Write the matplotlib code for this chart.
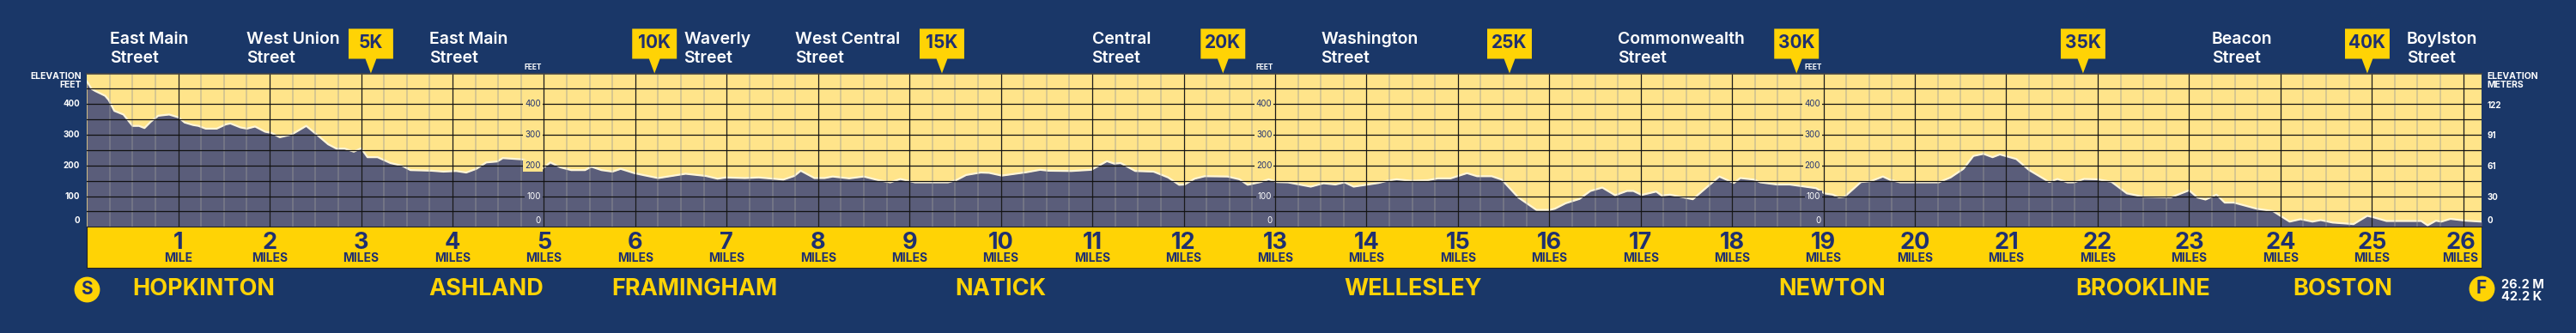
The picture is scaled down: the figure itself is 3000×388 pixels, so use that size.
import matplotlib
matplotlib.use('Agg')
import matplotlib.pyplot as plt
from matplotlib.patches import Polygon

# elevation profile
miles = [0.00, 0.05, 0.09, 0.20, 0.24, 0.30, 0.40, 0.50, 0.57, 0.63, 0.70, 0.78, 0.90, 1.00, 1.07, 1.16, 1.22, 1.30, 1.42,
         1.52, 1.57, 1.68, 1.75, 1.84, 1.95, 2.02, 2.11, 2.24, 2.40, 2.53, 2.64, 2.73, 2.82, 2.92, 3.00, 3.07, 3.18, 3.32,
         3.45, 3.54, 3.77, 3.90, 4.04, 4.15, 4.26, 4.37, 4.49, 4.55, 4.76, 4.89, 4.98, 5.07, 5.18, 5.30, 5.45, 5.52, 5.63,
         5.75, 5.84, 5.99, 6.10, 6.25, 6.55, 6.77, 6.90, 6.99, 7.20, 7.35, 7.62, 7.74, 7.81, 7.96, 8.07, 8.16, 8.34, 8.50,
         8.66, 8.79, 8.90, 9.06, 9.42, 9.51, 9.62, 9.78, 9.87, 10.01, 10.28, 10.43, 10.52, 10.77, 10.99, 11.16, 11.24,
         11.31, 11.47, 11.67, 11.83, 11.95, 12.01, 12.12, 12.23, 12.48, 12.61, 12.70, 12.84, 12.93, 13.02, 13.14, 13.39,
         13.53, 13.66, 13.76, 13.86, 14.13, 14.24, 14.33, 14.49, 14.67, 14.78, 14.92, 15.10, 15.21, 15.37, 15.48, 15.66,
         15.86, 16.00, 16.06, 16.18, 16.33, 16.45, 16.58, 16.72, 16.85, 16.92, 17.01, 17.17, 17.23, 17.32, 17.57, 17.86,
         18.02, 18.09, 18.24, 18.31, 18.49, 18.63, 18.92, 19.01, 19.10, 19.17, 19.23, 19.41, 19.52, 19.65, 19.73, 19.84,
         20.19, 20.26, 20.39, 20.53, 20.64, 20.75, 20.85, 20.93, 21.11, 21.25, 21.47, 21.56, 21.67, 21.74, 21.85, 21.99,
         22.15, 22.32, 22.50, 22.80, 23.00, 23.09, 23.18, 23.30, 23.39, 23.49, 23.74, 23.92, 24.10, 24.22, 24.35, 24.44,
         24.57, 24.80, 24.95, 25.02, 25.16, 25.54, 25.61, 25.70, 25.76, 25.86, 26.03, 26.20]
feet = [474, 450, 443, 427, 413, 378, 366, 329, 329, 322, 343, 362, 366, 357, 340, 332, 329, 320, 320,
        334, 337, 324, 320, 327, 310, 306, 292, 301, 329, 297, 269, 255, 255, 245, 256, 227, 227, 208,
        199, 185, 183, 180, 182, 177, 189, 210, 213, 224, 220, 208, 189, 210, 194, 185, 185, 196, 185,
        180, 189, 175, 168, 159, 173, 166, 157, 161, 159, 161, 154, 166, 183, 159, 159, 164, 158, 164,
        152, 145, 156, 145, 145, 152, 169, 177, 176, 167, 178, 186, 183, 182, 186, 214, 206,
        208, 182, 180, 161, 137, 138, 157, 165, 164, 155, 137, 146, 155, 146, 145, 131,
        142, 138, 145, 131, 143, 151, 155, 150, 152, 158, 158, 175, 165, 165, 154, 96,
        55, 55, 59, 77, 91, 117, 128, 103, 117, 117, 104, 115, 102, 105, 90, 164,
        143, 159, 154, 145, 138, 138, 126, 109, 105, 96, 98, 146, 149, 164, 153, 145,
        145, 145, 161, 189, 231, 238, 227, 236, 221, 185, 146, 156, 145, 145, 156, 155,
        147, 109, 98, 96, 119, 96, 89, 105, 79, 79, 59, 51, 17, 25, 17, 22,
        14, 9, 36, 31, 19, 19, 5, 20, 17, 26, 20, 17]

km_marks = [5, 10, 15, 20, 25, 30, 35, 40]
km_miles = [3.107, 6.21, 9.355, 12.43, 15.565, 18.705, 21.84, 24.95]
feet_ticks = [400, 300, 200, 100, 0]
meter_ticks = [122, 91, 61, 30, 0]
inner_axis_miles = [5, 13, 19]
streets = ['East Main\nStreet', 'West Union\nStreet', 'East Main\nStreet', 'Waverly\nStreet', 'West Central\nStreet',
           'Central\nStreet', 'Washington\nStreet', 'Commonwealth\nStreet', 'Beacon\nStreet', 'Boylston\nStreet']
street_miles = [0.254, 1.75, 3.75, 6.53, 7.75, 10.995, 13.50, 16.75, 23.25, 25.38]
cities = ['HOPKINTON', 'ASHLAND', 'FRAMINGHAM', 'NATICK', 'WELLESLEY', 'NEWTON', 'BROOKLINE', 'BOSTON']
city_miles = [0.50, 3.745, 5.745, 9.50, 13.755, 18.51, 21.76, 24.14]

NAVY_BG = '#1A3768'
NAVY_TXT = '#1F3070'
GOLD = '#FFD305'
PALE = '#FFE48A'
SLATE = '#5A5D7A'
CREAM = '#FFF6D8'
FONT = 'Inter'

W, H = 3000, 388
X0, X1 = 101.2, 2890.0
plt.rcParams['font.family'] = [FONT, 'DejaVu Sans']

fig = plt.figure(figsize=(W / 100, H / 100), dpi=100, facecolor=NAVY_BG)


def make_axes(top, bottom):
    return fig.add_axes([X0 / W, 1 - bottom / H, (X1 - X0) / W, (bottom - top) / H])


# main plot, then strips above and below it (their y axis is in pixels)
ax = make_axes(86, 264.3)
ax_top = make_axes(0, 86)
ax_band = make_axes(264.3, 312)
ax_bot = make_axes(312, 388)
for a, lim in ((ax_top, (86, 0)), (ax_band, (312, 264.3)), (ax_bot, (388, 312))):
    a.set_xlim(0, 26.2)
    a.set_ylim(*lim)
    a.set_xticks([])
    a.set_yticks([])
    a.patch.set_alpha(0)
    for s in a.spines.values():
        s.set_visible(False)

# profile
ax.set_xlim(0, 26.2)
ax.set_ylim(0, 498.7)
ax.set_facecolor(PALE)
ax.fill_between(miles, feet, 0, color=SLATE, lw=0, zorder=1)
ax.plot(miles, feet, color=CREAM, lw=1.6, zorder=2, solid_joinstyle='round')
ax.set_xticks([])
ax.set_yticks([])
for s in ax.spines.values():
    s.set_visible(False)

for q in range(1, 105):
    m = q * 0.25
    if q % 4:
        ax.axvline(m, color='#999999', alpha=0.5, lw=1.1, zorder=3)
    else:
        ax.axvline(m, color='#1A1A1A', lw=0.9, zorder=4)
for v in range(50, 500, 50):
    ax.axhline(v, color='#111111', lw=0.9, zorder=4)
ax.plot([0, 26.2], [498.7, 498.7], color='#444444', lw=1.2, zorder=4, clip_on=False)

# tick labels along the sides and inside the plot
for f in feet_ticks:
    yp = 5 if f == 0 else 0
    ax.annotate(str(f), (0, f), xytext=(-6, yp), textcoords='offset points', ha='right', va='center',
                color='white', fontsize=7, fontweight='bold', annotation_clip=False)
for mt, f in zip(meter_ticks, feet_ticks):
    yp = 5 if f == 0 else -1
    ax.annotate(str(mt), (26.2, f), xytext=(5, yp), textcoords='offset points', ha='left', va='center',
                color='white', fontsize=7, fontweight='bold', annotation_clip=False)
for m in inner_axis_miles:
    for f in feet_ticks:
        under = f <= 100
        yp = 5 if f == 0 else 0
        ax.annotate(str(f), (m, f), xytext=(-2.5, yp), textcoords='offset points', ha='right', va='center',
                    color='white' if under else NAVY_TXT, fontsize=7, zorder=6, annotation_clip=False,
                    bbox=dict(boxstyle='square,pad=0.2', fc=SLATE if under else PALE, ec='none'))
    ax_top.text(m - 0.02, 78.7, 'FEET', ha='right', va='center', color='white', fontsize=6, fontweight='bold')

ax_top.text(-0.055, 88.7, 'ELEVATION', ha='right', va='center', color='white', fontsize=7.5, fontweight='bold')
ax_top.text(-0.055, 99, 'FEET', ha='right', va='center', color='white', fontsize=7.5, fontweight='bold')
ax_top.text(26.26, 89, 'ELEVATION', ha='left', va='center', color='white', fontsize=7.5, fontweight='bold')
ax_top.text(26.26, 99.3, 'METERS', ha='left', va='center', color='white', fontsize=7.5, fontweight='bold')

# street names
for name, m in zip(streets, street_miles):
    first, second = name.split('\n')
    ax_top.text(m, 51, first, ha='left', va='baseline', color='white', fontsize=14, fontweight='semibold')
    ax_top.text(m, 72.7, second, ha='left', va='baseline', color='white', fontsize=14, fontweight='semibold')

# km flags
for km, m in zip(km_marks, km_miles):
    flag = Polygon([(m - 0.244, 33.5), (m + 0.244, 33.5), (m + 0.244, 68.5), (m + 0.06, 68.5), (m, 85.5), (m - 0.06, 68.5),
                    (m - 0.244, 68.5)], closed=True, fc=GOLD, ec='none', clip_on=False)
    ax_top.add_patch(flag)
    ax_top.text(m, 50.5, f'{km}K', ha='center', va='center', color=NAVY_TXT, fontsize=15, fontweight='bold')

# mile band
ax_band.patch.set_alpha(1)
ax_band.set_facecolor(GOLD)
for side in ('bottom', 'top', 'left'):
    ax_band.spines[side].set_visible(True)
    ax_band.spines[side].set_color('#222222')
for n in range(1, 27):
    m = n - 0.03 if n == 26 else n
    ax_band.text(m, 290.5, str(n), ha='center', va='baseline', color=NAVY_TXT, fontsize=19.5, fontweight='bold')
    ax_band.text(m, 305, 'MILE' if n == 1 else 'MILES', ha='center', va='baseline', color=NAVY_TXT, fontsize=10,
                 fontweight='bold')

# towns
for name, m in zip(cities, city_miles):
    ax_bot.text(m, 344, name, ha='left', va='baseline', color=GOLD, fontsize=19.5, fontweight='bold')

ax_bot.plot([0], [336.5], 'o', ms=21.5, color=GOLD, mew=0, clip_on=False)
ax_bot.text(0, 336.5, 'S', ha='center', va='center', color=NAVY_TXT, fontsize=15, fontweight='bold')
ax_bot.plot([26.2], [336], 'o', ms=21.5, color=GOLD, mew=0, clip_on=False)
ax_bot.text(26.2, 336, 'F', ha='center', va='center', color=NAVY_TXT, fontsize=15, fontweight='bold')
ax_bot.text(26.42, 332, '26.2 M', ha='left', va='center', color='white', fontsize=10.5, fontweight='bold')
ax_bot.text(26.42, 346, '42.2 K', ha='left', va='center', color='white', fontsize=10.5, fontweight='bold')

plt.savefig('out.png', dpi=100, facecolor=NAVY_BG)
plt.close()
